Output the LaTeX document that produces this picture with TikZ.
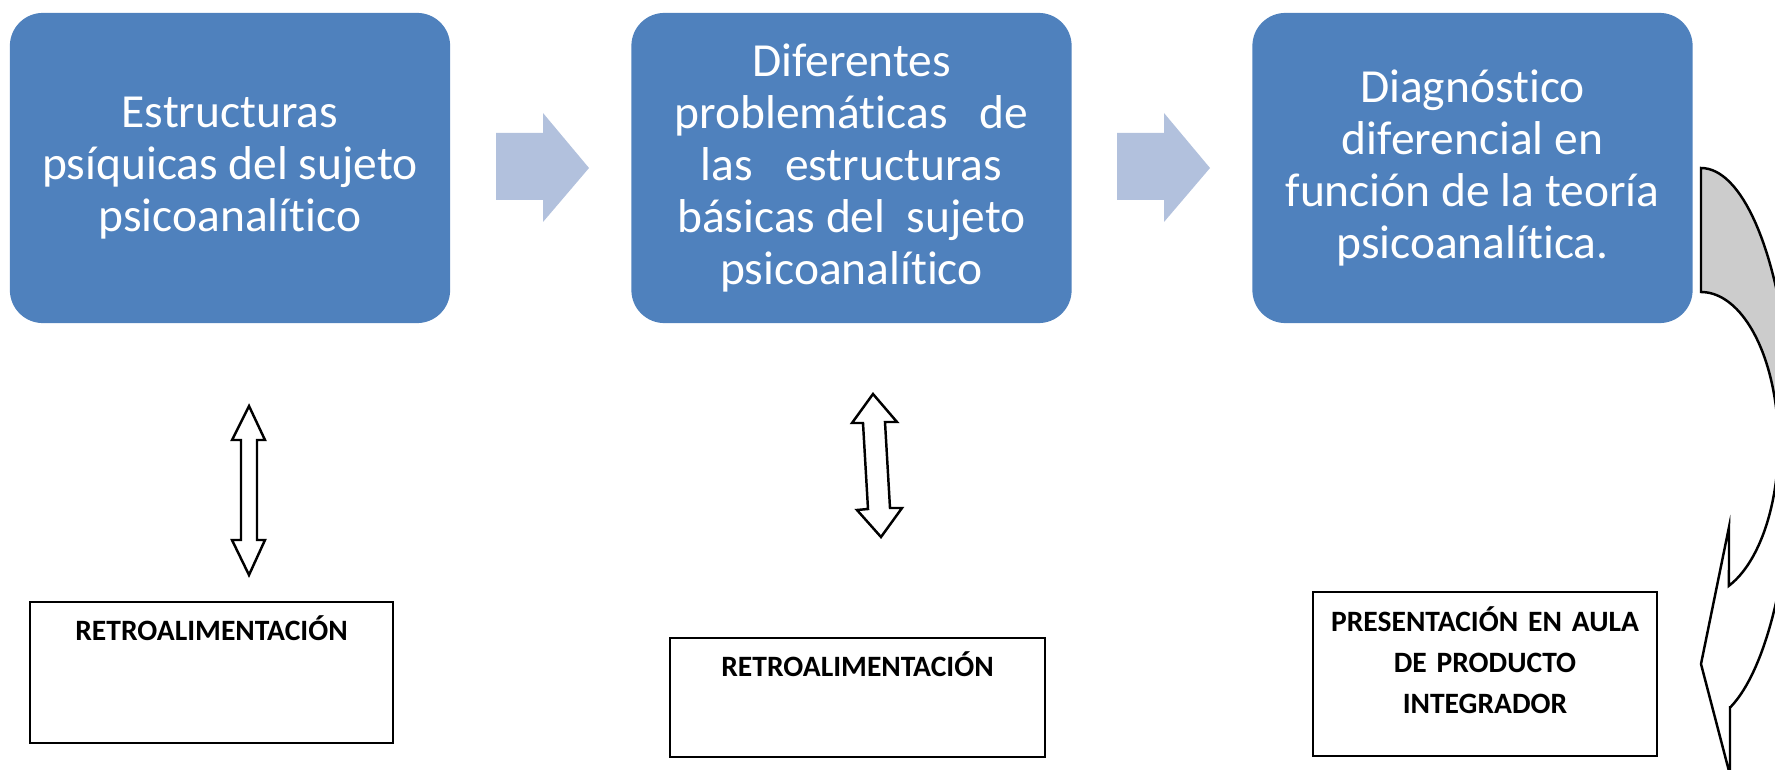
\documentclass[tikz,border=0pt]{standalone}
\usepackage{fontspec}
\setmainfont{Carlito}[Ligatures=NoCommon]
\usetikzlibrary{calc}
\definecolor{boxblue}{RGB}{79,129,189}
\definecolor{arrowblue}{RGB}{178,193,221}
\definecolor{backgray}{RGB}{204,204,204}

\begin{document}
\begin{tikzpicture}[x=0.01cm,y=-0.01cm]
\tikzset{topbox/.style = {rectangle,rounded corners=0.33cm,fill=boxblue,text=white,align=center,
    minimum width=4.4cm,minimum height=3.1cm,font=\fontsize{13.5}{14.8}\selectfont}}
\tikzset{retbox/.style = {rectangle,draw,line width=0.7pt,inner sep=0pt}}
\tikzset{rettext/.style = {anchor=base,align=center,text width=3.4cm,inner sep=0pt,
    font=\fontsize{8.4}{11.6}\selectfont\bfseries}}
\tikzset{flow/.style = {fill=arrowblue}}
\tikzset{outline/.style = {draw,line width=0.7pt,fill=white}}
\useasboundingbox (0,0) rectangle (1775,770);
% upper row
\node[topbox] (est) at (230,168) {Estructuras\\psíquicas del sujeto\\psicoanalítico};
\node[topbox] (dif) at (851.5,168) {Diferentes\\problemáticas\ \ \ de\\las\ \ \ estructuras\\básicas del\ \ sujeto\\psicoanalítico};
\node[topbox] (diag) at (1472.5,168) {Diagnóstico\\diferencial en\\función de la teoría\\psicoanalítica.};
\path[flow] (496,133) -- (543,133) -- (543,113) -- (589,168) -- (543,222) -- (543,200) -- (496,200) -- cycle;
\path[flow] (1117,133) -- (1164,133) -- (1164,113) -- (1210,168) -- (1164,222) -- (1164,200) -- (1117,200) -- cycle;
% lower row
\node[retbox,minimum width=3.63cm,minimum height=1.41cm] (retA) at (211.5,672.5) {};
\node[retbox,minimum width=3.75cm,minimum height=1.19cm] (retB) at (857.5,697.5) {};
\node[retbox,minimum width=3.44cm,minimum height=1.64cm] (pres) at (1485,674) {};
\node[rettext] (retAtxt) at ($(retA.north)+(0,40)$) {RETROALIMENTACIÓN};
\node[rettext] (retBtxt) at ($(retB.north)+(0,40)$) {RETROALIMENTACIÓN};
\node[rettext] (prestxt) at ($(pres.north)+(0,41)$) {PRESENTACIÓN EN AULA\\DE PRODUCTO\\INTEGRADOR};
% double arrows
\draw[outline] (249,406) -- (265,440) -- (257,440) -- (257,540) -- (265,540) -- (249,575)
  -- (232,540) -- (241,540) -- (241,440) -- (232,440) -- cycle;
\draw[outline] (873,394) -- (897,422) -- (885,422) -- (890,508) -- (902,508) -- (881,537)
  -- (857,510) -- (868,509) -- (863,423) -- (852,423) -- cycle;
% curved arrow on the right
\begin{scope}
\clip (0,0) rectangle (1775,770);
\draw[line width=0.7pt,fill=backgray] (1701,168)
  -- plot[domain=90:0,samples=40] ({1701+91.2*cos(\x)},{445-277*sin(\x)})
  -- plot[domain=0:90,samples=40] ({1701+77.3*cos(\x)},{444-152*sin(\x)}) -- cycle;
\draw[outline,line join=miter] plot[domain=0:-68.8,samples=40] ({1701+77.3*cos(\x)},{444-152*sin(\x)})
  -- (1729,527) -- (1701,664) -- (1730,775) -- (1730,707.5)
  -- plot[domain=-71.4:0,samples=40] ({1701+91.2*cos(\x)},{445-277*sin(\x)}) -- cycle;
\end{scope}
\end{tikzpicture}
\end{document}
